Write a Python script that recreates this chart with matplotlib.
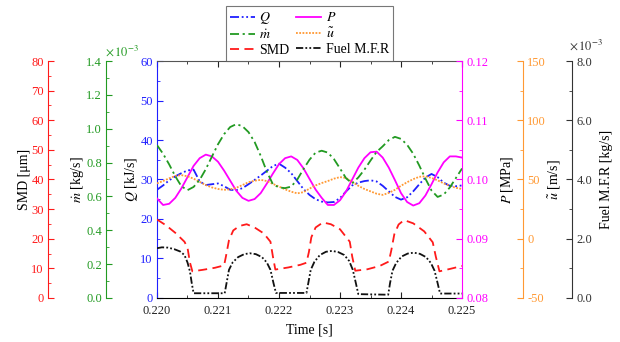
import numpy as np
import matplotlib
matplotlib.use("Agg")
import matplotlib.pyplot as plt
from matplotlib.ticker import MultipleLocator, FuncFormatter

plt.rcParams['font.family'] = 'Liberation Serif'
plt.rcParams['mathtext.fontset'] = 'stix'
plt.rcParams['font.size'] = 9
plt.rcParams['axes.unicode_minus'] = False

# ---------------- data ----------------
# Q, P, mdot, u sampled every 0.1 ms
t = np.linspace(0.220, 0.225, 51)

Q = [27.4, 28.5, 29.8, 30.8, 31.6, 32.3, 32.5, 29.5, 28.6, 28.8,
     29.0, 28.3, 27.4, 27.3, 27.8, 28.8, 29.9, 31.0, 32.2, 33.4,
     34.0, 33.0, 31.6, 29.6, 27.6, 26.1, 25.0, 24.4, 24.2, 24.3,
     25.3, 27.0, 28.5, 29.2, 29.6, 29.8, 29.5, 28.4, 27.0, 25.6,
     24.9, 25.5, 27.0, 28.8, 30.5, 31.4, 30.6, 29.2, 28.4, 28.3, 28.5]

P = [0.0968, 0.0957, 0.0959, 0.0969, 0.0985, 0.1004, 0.1023, 0.1036, 0.1042, 0.1039,
     0.1030, 0.1015, 0.0998, 0.0981, 0.0969, 0.0964, 0.0967, 0.0977, 0.0993, 0.1010,
     0.1026, 0.1036, 0.1039, 0.1033, 0.1019, 0.1001, 0.0983, 0.0969, 0.0957, 0.0957,
     0.0965, 0.0980, 0.1000, 0.1020, 0.1036, 0.1046, 0.1047, 0.1037, 0.1020, 0.0999,
     0.0977, 0.0962, 0.0956, 0.0960, 0.0973, 0.0992, 0.1012, 0.1029, 0.1039, 0.1039, 0.1037]

# mass flow rate in 1e-3 kg/s
mdot = np.array([0.903, 0.852, 0.789, 0.719, 0.660, 0.637, 0.656, 0.698, 0.761, 0.835,
                 0.908, 0.968, 1.010, 1.027, 1.015, 0.980, 0.922, 0.840, 0.747, 0.672,
                 0.653, 0.649, 0.658, 0.700, 0.761, 0.817, 0.859, 0.870, 0.859, 0.821,
                 0.765, 0.707, 0.677, 0.712, 0.758, 0.812, 0.863, 0.896, 0.933, 0.952,
                 0.940, 0.905, 0.852, 0.782, 0.705, 0.635, 0.597, 0.611, 0.653, 0.709, 0.765]) * 1e-3

u = [46.7, 48.7, 51.0, 53.0, 53.7, 52.7, 50.7, 48.0, 45.3, 43.3,
     42.0, 41.3, 41.7, 43.0, 45.3, 47.7, 49.0, 49.7, 48.7, 46.3,
     44.0, 41.7, 39.7, 38.3, 39.3, 42.3, 45.0, 47.0, 48.7, 50.7,
     52.0, 51.3, 48.0, 44.7, 42.0, 40.0, 38.0, 37.0, 38.7, 41.3,
     44.7, 47.7, 50.3, 52.3, 52.7, 51.3, 49.3, 46.7, 44.7, 43.0, 42.0]

# SMD [um]
t_smd = [0.22000, 0.22015, 0.22030, 0.22045, 0.22050, 0.22054, 0.22058, 0.22075, 0.22095, 0.22110,
         0.22113, 0.22118, 0.22125, 0.22135, 0.22147, 0.22160, 0.22175, 0.22186, 0.22190, 0.22194,
         0.22215, 0.22235, 0.22245, 0.22249, 0.22253, 0.22260, 0.22272, 0.22285, 0.22300, 0.22316,
         0.22320, 0.22325, 0.22345, 0.22365, 0.22380, 0.22384, 0.22389, 0.22396, 0.22405, 0.22420,
         0.22438, 0.22452, 0.22457, 0.22463, 0.22480, 0.22500]
smd = [26.5, 24.5, 22.0, 19.0, 17.0, 12.0, 9.0, 9.5, 10.2, 11.0,
       14.0, 19.5, 22.8, 24.3, 24.9, 23.8, 21.8, 19.0, 14.0, 9.6,
       10.3, 11.2, 11.9, 15.5, 20.5, 23.8, 25.5, 24.9, 23.2, 19.0,
       14.0, 9.2, 9.7, 10.8, 12.3, 16.0, 21.5, 24.8, 26.3, 25.2,
       22.5, 18.8, 14.0, 9.0, 9.8, 10.8]

# fuel mass flow rate in 1e-3 kg/s
t_fuel = [0.22000, 0.22008, 0.22018, 0.22028, 0.22038, 0.22045, 0.22050, 0.22054, 0.22057, 0.22060,
          0.22111, 0.22114, 0.22118, 0.22124, 0.22133, 0.22143, 0.22152, 0.22162, 0.22172, 0.22180,
          0.22186, 0.22191, 0.22195, 0.22245, 0.22248, 0.22252, 0.22258, 0.22267, 0.22277, 0.22287,
          0.22297, 0.22307, 0.22315, 0.22321, 0.22326, 0.22330, 0.22379, 0.22382, 0.22386, 0.22392,
          0.22401, 0.22411, 0.22421, 0.22431, 0.22441, 0.22449, 0.22455, 0.22460, 0.22464, 0.22500]
fuel = np.array([1.68, 1.71, 1.70, 1.65, 1.57, 1.45, 1.20, 0.90, 0.50, 0.16,
                 0.16, 0.50, 0.95, 1.20, 1.38, 1.48, 1.51, 1.48, 1.38, 1.20,
                 0.95, 0.50, 0.17, 0.17, 0.50, 0.95, 1.22, 1.45, 1.56, 1.59,
                 1.55, 1.45, 1.25, 0.95, 0.50, 0.13, 0.11, 0.50, 0.92, 1.18,
                 1.40, 1.50, 1.53, 1.49, 1.38, 1.18, 0.92, 0.50, 0.15, 0.15]) * 1e-3

c_q = '#1f1fff'
c_p = '#ff00ff'
c_m = '#229a22'
c_u = '#ff9933'
c_smd = '#ff1a1a'
c_fuel = '#111111'

# ---------------- figure ----------------
fig = plt.figure(figsize=(6.2, 3.42), dpi=100)
ax = fig.add_axes([0.2532, 0.1287, 0.492, 0.6929])


def side_axis(pos, side, color):
    tw = ax.twinx()
    for s in tw.spines.values():
        s.set_visible(False)
    tw.spines[side].set_visible(True)
    tw.spines[side].set_position(('axes', pos))
    tw.spines[side].set_color(color)
    tw.yaxis.set_ticks_position(side)
    tw.yaxis.set_label_position(side)
    tw.tick_params(axis='y', which='both', direction='in', colors=color, pad=3)
    tw.tick_params(axis='y', which='major', length=4)
    tw.tick_params(axis='y', which='minor', length=2)
    return tw


ax_p = side_axis(1.0, 'right', c_p)
ax_u = side_axis(1.2, 'right', c_u)
ax_f = side_axis(1.361, 'right', '#333333')
ax_m = side_axis(-0.167, 'left', c_m)
ax_s = side_axis(-0.357, 'left', c_smd)

lw = 1.3
l_q, = ax.plot(t, Q, color=c_q, lw=lw, dashes=(5, 1.5, 1, 1.5, 1, 1.5), label=r'$Q$')
l_u, = ax_u.plot(t, u, color=c_u, lw=lw, dashes=(1, 0.8), label=r'$\tilde{u}$')
l_m, = ax_m.plot(t, mdot, color=c_m, lw=lw, dashes=(5, 2, 1.2, 2), label=r'$\dot{m}$')
l_p, = ax_p.plot(t, P, color=c_p, lw=lw, label=r'$P$')
l_s, = ax_s.plot(t_smd, smd, color=c_smd, lw=lw, dashes=(5, 3), label='SMD')
l_f, = ax_f.plot(t_fuel, fuel, color=c_fuel, lw=lw, dashes=(4, 1.2, 1, 1.2, 1, 1.2), label='Fuel M.F.R')

# main axes: time and heat release
ax.set_xlim(0.220, 0.225)
ax.set_ylim(0, 60)
ax.xaxis.set_major_locator(MultipleLocator(0.001))
ax.xaxis.set_minor_locator(MultipleLocator(0.0005))
ax.xaxis.set_major_formatter(FuncFormatter(lambda v, _: f'{v:.3f}'))
ax.yaxis.set_major_locator(MultipleLocator(10))
ax.yaxis.set_minor_locator(MultipleLocator(5))
ax.tick_params(axis='x', which='both', direction='in', top=True, colors='#222222', pad=5)
ax.tick_params(axis='x', which='major', length=4)
ax.tick_params(axis='x', which='minor', length=2)
ax.tick_params(axis='y', which='both', direction='in', colors=c_q, pad=3)
ax.tick_params(axis='y', which='major', length=4)
ax.tick_params(axis='y', which='minor', length=2)
ax.spines['left'].set_color(c_q)
ax.spines['right'].set_visible(False)
ax.spines['top'].set_color('#555555')
ax.set_xlabel('Time [s]', fontsize=10, labelpad=5)
ax.set_ylabel(r'$Q$ [kJ/s]', fontsize=10, color='k', labelpad=0)

ax_p.set_ylim(0.08, 0.12)
ax_p.yaxis.set_major_locator(MultipleLocator(0.01))
ax_p.yaxis.set_minor_locator(MultipleLocator(0.005))
ax_p.yaxis.set_major_formatter(FuncFormatter(lambda v, _: f'{v:.2f}'))
ax_p.set_ylabel(r'$P$ [MPa]', fontsize=10, color='k', labelpad=8)

ax_u.set_ylim(-50, 150)
ax_u.yaxis.set_major_locator(MultipleLocator(50))
ax_u.yaxis.set_minor_locator(MultipleLocator(25))
ax_u.set_ylabel(r'$\tilde{u}$ [m/s]', fontsize=10, color='k', labelpad=0)

ax_f.set_ylim(0, 8e-3)
ax_f.yaxis.set_major_locator(MultipleLocator(2e-3))
ax_f.yaxis.set_minor_locator(MultipleLocator(1e-3))
ax_f.yaxis.set_major_formatter(FuncFormatter(lambda v, _: f'{v * 1e3:.1f}'))
ax_f.set_ylabel('Fuel M.F.R [kg/s]', fontsize=10, color='k', labelpad=6)
ax_f.text(1.35, 1.035, r'$\times\,10^{-3}$', transform=ax.transAxes,
          ha='left', va='bottom', fontsize=9, color='#333333')

ax_m.set_ylim(0, 1.4e-3)
ax_m.yaxis.set_major_locator(MultipleLocator(0.2e-3))
ax_m.yaxis.set_minor_locator(MultipleLocator(0.1e-3))
ax_m.yaxis.set_major_formatter(FuncFormatter(lambda v, _: f'{v * 1e3:.1f}'))
ax_m.set_ylabel(r'$\dot{m}$ [kg/s]', fontsize=10, color='k', labelpad=0)
ax_m.text(-0.172, 1.01, r'$\times\,10^{-3}$', transform=ax.transAxes,
          ha='left', va='bottom', fontsize=9, color=c_m)

ax_s.set_ylim(0, 80)
ax_s.yaxis.set_major_locator(MultipleLocator(10))
ax_s.yaxis.set_minor_locator(MultipleLocator(5))
ax_s.set_ylabel('SMD [\u03bcm]', fontsize=10, color='k', labelpad=0)

handles = [l_q, l_m, l_s, l_p, l_u, l_f]
leg = ax_s.legend(handles, [h.get_label() for h in handles],
                  loc='lower center', bbox_to_anchor=(0.5, 1.0), ncol=2,
                  fontsize=10, frameon=True, fancybox=False, borderaxespad=0,
                  handlelength=1.8, handletextpad=0.3, columnspacing=0.5,
                  labelspacing=0.15, borderpad=0.3)
leg.get_frame().set_edgecolor('#555555')
leg.get_frame().set_linewidth(0.8)

fig.savefig('out.png', dpi=100)
